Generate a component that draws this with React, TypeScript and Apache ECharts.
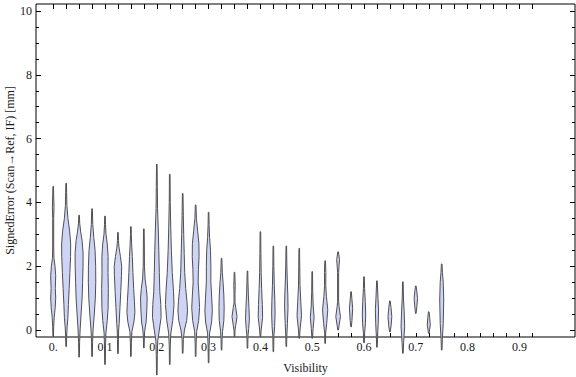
import React, { useEffect, useRef } from "react";
import * as echarts from "echarts";

// Visibility bins (x positions of the violins)
const visibility: number[] = [
  0, 0.025, 0.05, 0.075, 0.1, 0.125, 0.15, 0.175, 0.2, 0.225, 0.25, 0.275, 0.3,
  0.325, 0.35, 0.375, 0.4, 0.425, 0.45, 0.475, 0.5, 0.525, 0.55, 0.575, 0.6,
  0.625, 0.65, 0.675, 0.7, 0.725, 0.75,
];

// Estimated density profiles: [signed error (mm), relative density]
const profiles: [number, number][][] = [
  [[-0.2,0.06],[0.1,0.1],[0.4,0.2],[0.7,0.4],[1.0,0.5],[1.3,0.42],[1.7,0.5],[2.0,0.36],[2.25,0.15],[2.6,0.1],[3.5,0.1],[3.85,0.16],[4.2,0.1],[4.5,0.06]],
  [[-0.52,0.06],[-0.2,0.1],[0.1,0.2],[0.4,0.35],[0.8,0.45],[1.3,0.6],[1.8,0.75],[2.3,0.88],[2.7,0.9],[3.1,0.7],[3.5,0.35],[3.9,0.15],[4.3,0.1],[4.6,0.06]],
  [[-0.85,0.06],[-0.4,0.1],[0,0.2],[0.5,0.4],[1.0,0.6],[1.5,0.7],[2.0,0.78],[2.4,0.8],[2.8,0.6],[3.1,0.3],[3.35,0.12],[3.6,0.06]],
  [[-0.83,0.06],[-0.4,0.1],[0,0.2],[0.5,0.45],[1.0,0.65],[1.5,0.74],[2.0,0.72],[2.5,0.6],[2.9,0.35],[3.3,0.15],[3.8,0.06]],
  [[-1.08,0.06],[-0.5,0.1],[-0.1,0.18],[0.3,0.45],[0.7,0.62],[1.3,0.66],[1.8,0.6],[2.3,0.62],[2.7,0.45],[3.0,0.2],[3.3,0.1],[3.57,0.06]],
  [[-0.74,0.06],[-0.3,0.1],[0,0.14],[0.2,0.24],[0.7,0.4],[1.2,0.56],[1.7,0.7],[2.0,0.74],[2.3,0.5],[2.6,0.2],[2.8,0.1],[3.06,0.06]],
  [[-0.83,0.06],[-0.4,0.1],[-0.05,0.2],[0.25,0.6],[0.55,0.8],[0.9,0.7],[1.3,0.55],[1.8,0.4],[2.3,0.28],[2.7,0.15],[3.0,0.08],[3.24,0.06]],
  [[-0.56,0.06],[-0.2,0.1],[0.0,0.2],[0.25,0.45],[0.6,0.58],[1.0,0.66],[1.3,0.5],[1.6,0.25],[2.0,0.12],[2.6,0.1],[3.17,0.06]],
  [[-1.41,0.06],[-0.8,0.1],[-0.35,0.18],[0,0.5],[0.4,0.86],[0.8,0.8],[1.2,0.6],[1.8,0.5],[2.5,0.4],[3.2,0.28],[3.8,0.15],[4.5,0.1],[5.2,0.06]],
  [[-1.08,0.06],[-0.5,0.1],[-0.1,0.22],[0.3,0.6],[0.8,0.85],[1.2,0.75],[1.8,0.5],[2.5,0.32],[3.2,0.2],[4.0,0.1],[4.88,0.06]],
  [[-0.73,0.06],[-0.3,0.12],[0,0.35],[0.3,0.8],[0.6,0.95],[0.9,0.85],[1.3,0.6],[1.8,0.4],[2.4,0.3],[3.0,0.2],[3.6,0.12],[4.28,0.06]],
  [[-0.83,0.06],[-0.4,0.1],[-0.05,0.2],[0.3,0.6],[0.7,0.78],[1.1,0.65],[1.5,0.5],[1.9,0.55],[2.3,0.68],[2.7,0.65],[3.1,0.4],[3.5,0.15],[3.92,0.06]],
  [[-1.03,0.06],[-0.5,0.1],[-0.1,0.2],[0.25,0.6],[0.6,0.74],[1.0,0.62],[1.5,0.45],[2.0,0.45],[2.5,0.38],[2.9,0.2],[3.3,0.1],[3.69,0.06]],
  [[-0.63,0.06],[-0.3,0.1],[-0.05,0.2],[0.3,0.46],[0.7,0.52],[1.1,0.45],[1.5,0.3],[1.8,0.15],[2.25,0.06]],
  [[-0.21,0.06],[0.0,0.1],[0.15,0.25],[0.42,0.5],[0.7,0.25],[0.85,0.1],[1.15,0.1],[1.4,0.14],[1.81,0.06]],
  [[-0.57,0.06],[-0.2,0.1],[0.05,0.25],[0.35,0.38],[0.7,0.3],[1.1,0.18],[1.5,0.1],[1.85,0.06]],
  [[-0.21,0.06],[0.0,0.15],[0.4,0.44],[0.8,0.38],[1.3,0.25],[1.8,0.15],[2.4,0.1],[3.08,0.06]],
  [[-0.68,0.06],[-0.2,0.1],[0.1,0.25],[0.5,0.34],[0.9,0.3],[1.4,0.18],[2.0,0.1],[2.63,0.06]],
  [[-0.52,0.06],[-0.2,0.1],[0.2,0.22],[0.7,0.34],[1.1,0.3],[1.6,0.18],[2.1,0.1],[2.63,0.06]],
  [[-0.26,0.06],[0.0,0.15],[0.45,0.45],[0.9,0.3],[1.4,0.15],[2.0,0.1],[2.56,0.06]],
  [[-0.26,0.06],[0.05,0.18],[0.4,0.38],[0.75,0.2],[1.2,0.1],[1.83,0.06]],
  [[-0.42,0.06],[-0.1,0.1],[0.2,0.3],[0.63,0.52],[1.05,0.25],[1.4,0.12],[1.8,0.14],[2.17,0.06]],
  [[0.0,0.06],[0.15,0.2],[0.42,0.46],[0.73,0.2],[0.9,0.1],[1.8,0.1],[2.0,0.18],[2.2,0.28],[2.45,0.06]],
  [[0.1,0.06],[0.3,0.18],[0.68,0.32],[1.0,0.15],[1.2,0.06]],
  [[-0.4,0.06],[-0.1,0.12],[0.2,0.28],[0.5,0.34],[0.9,0.25],[1.3,0.12],[1.67,0.06]],
  [[-0.54,0.06],[-0.2,0.12],[0.2,0.25],[0.63,0.32],[1.0,0.2],[1.54,0.06]],
  [[-0.06,0.06],[0.15,0.25],[0.42,0.38],[0.7,0.22],[0.91,0.06]],
  [[-0.73,0.06],[-0.4,0.15],[0.1,0.36],[0.6,0.25],[1.0,0.12],[1.51,0.06]],
  [[0.52,0.06],[0.75,0.22],[0.99,0.34],[1.2,0.2],[1.38,0.06]],
  [[-0.1,0.06],[0.16,0.3],[0.4,0.18],[0.57,0.06]],
  [[-0.63,0.06],[-0.3,0.12],[0.2,0.3],[0.94,0.4],[1.5,0.3],[1.8,0.15],[2.07,0.06]],
];

const yTicks: number[] = [0, 2, 4, 6, 8, 10];
const xTickLabels: string[] = ["0.", "0.1", "0.2", "0.3", "0.4", "0.5", "0.6", "0.7", "0.8", "0.9"];
const xTitle = "Visibility";
const yTitle = "SignedError (Scan\u2192Ref, IF) [mm]";

const FONT = "'Liberation Serif', 'Times New Roman', serif";
const HALF_WIDTH = 0.0097; // x-units per unit of relative density

export default function App() {
  const ref = useRef<HTMLDivElement>(null);
  useEffect(() => {
    if (!ref.current) return;
    const chart = echarts.init(ref.current, null, { renderer: "svg" });
    const tickAxisCommon = {
      type: "value" as const,
      axisLine: { show: false },
      splitLine: { show: false },
    };
    const option: any = {
      animation: false,
      grid: [
        { left: 36, right: 1, top: 4, bottom: 40, show: true, borderColor: "#000", borderWidth: 1, backgroundColor: "transparent" },
        { left: 36, right: 1, top: 11, bottom: 47 },
        { left: 53.2, right: 43.65, top: 4, bottom: 40 },
      ],
      xAxis: [
        { gridIndex: 0, type: "value", min: -0.0332, max: 1.0073, show: false },
        { gridIndex: 1, type: "value", min: 0, max: 1, show: false },
        {
          ...tickAxisCommon, gridIndex: 2, min: 0, max: 0.925, interval: 0.025, position: "bottom",
          axisTick: { show: true, inside: true, length: 4, lineStyle: { color: "#000", width: 1 } },
          axisLabel: {
            margin: 4, fontFamily: FONT, fontSize: 12, color: "#1a1a1a",
            formatter: (v: number) => {
              const k = Math.round(v * 40);
              if (k % 4 !== 0) return "";
              return xTickLabels[k / 4] ?? "";
            },
          },
        },
        {
          ...tickAxisCommon, gridIndex: 2, min: 0, max: 0.925, interval: 0.025, position: "top",
          axisTick: { show: true, inside: true, length: 5, lineStyle: { color: "#000", width: 1 } },
          axisLabel: { show: false },
        },
      ],
      yAxis: [
        { gridIndex: 0, type: "value", min: -0.2194, max: 10.2194, show: false },
        {
          ...tickAxisCommon, gridIndex: 1, min: yTicks[0], max: yTicks[yTicks.length - 1], interval: 2, position: "left",
          axisTick: { show: true, inside: true, length: 5, lineStyle: { color: "#000", width: 1 } },
          minorTick: { show: true, splitNumber: 4, length: 3, lineStyle: { color: "#000", width: 1 } },
          minorSplitLine: { show: false },
          axisLabel: { margin: 4, fontFamily: FONT, fontSize: 12, color: "#1a1a1a" },
        },
        {
          ...tickAxisCommon, gridIndex: 1, min: yTicks[0], max: yTicks[yTicks.length - 1], interval: 2, position: "right",
          axisTick: { show: true, inside: true, length: 5, lineStyle: { color: "#000", width: 1 } },
          minorTick: { show: true, splitNumber: 4, length: 3, lineStyle: { color: "#000", width: 1 } },
          minorSplitLine: { show: false },
          axisLabel: { show: false },
        },
        { gridIndex: 2, type: "value", min: 0, max: 1, show: false },
      ],
      series: [
        {
          type: "custom",
          xAxisIndex: 0,
          yAxisIndex: 0,
          clip: false,
          data: visibility.map((x, i) => [x, i]),
          renderItem: (params: any, api: any) => {
            const x = api.value(0);
            const prof = profiles[params.dataIndex];
            const right = prof.map(([y, d]) => api.coord([x + d * HALF_WIDTH, y]));
            const left = prof.slice().reverse().map(([y, d]) => api.coord([x - d * HALF_WIDTH, y]));
            return {
              type: "polygon",
              shape: { points: right.concat(left) },
              style: { fill: "#cdd4f6", stroke: "#505050", lineWidth: 1, lineJoin: "round" },
            };
          },
        },
      ],
      graphic: [
        {
          type: "text", x: 305.5, y: 367.5,
          style: { text: xTitle, font: `12px ${FONT}`, fill: "#1a1a1a", textAlign: "center", textVerticalAlign: "middle" },
        },
        {
          type: "text", x: 10, y: 170.5, rotation: Math.PI / 2,
          style: { text: yTitle, font: `12px ${FONT}`, fill: "#1a1a1a", textAlign: "center", textVerticalAlign: "middle" },
        },
      ],
    };
    chart.setOption(option);
    return () => chart.dispose();
  }, []);
  return <div ref={ref} style={{ position: "absolute", left: 0, top: 0, width: 576, height: 377 }} />;
}
